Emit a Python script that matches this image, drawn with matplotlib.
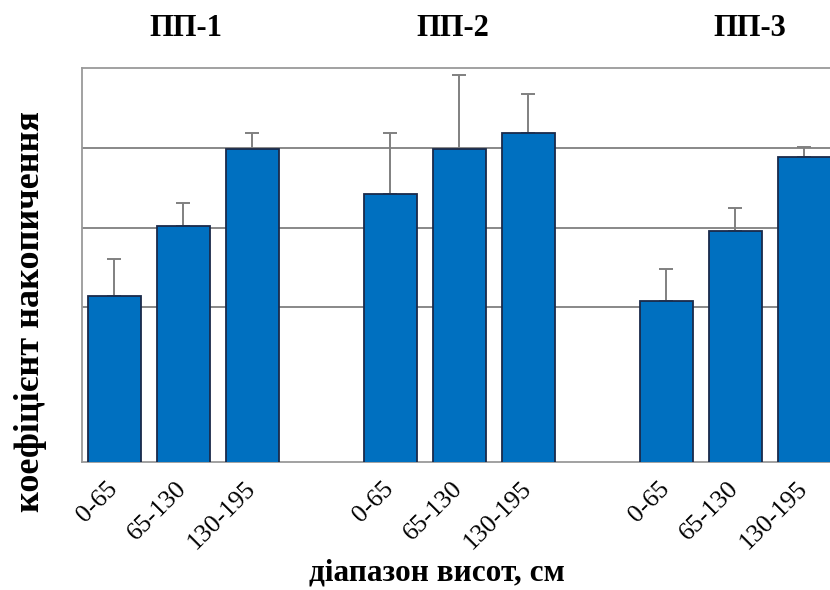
import numpy as np
import matplotlib.pyplot as plt

# діапазони висот для кожної пробної площі
ranges = ['0-65', '65-130', '130-195']
plots = ['ПП-1', 'ПП-2', 'ПП-3']

# середні значення коефіцієнта накопичення та похибки (лише вгору)
pp1_mean = [2.14, 3.02, 3.99]
pp1_err = [0.47, 0.29, 0.19]
pp2_mean = [3.42, 3.99, 4.19]
pp2_err = [0.76, 0.92, 0.48]
pp3_mean = [2.08, 2.96, 3.88]
pp3_err = [0.40, 0.28, 0.13]

means = pp1_mean + pp2_mean + pp3_mean
errs = pp1_err + pp2_err + pp3_err
labels = ranges * 3

# три стовпчики на групу, одна порожня позиція між групами
pos = [g * 4 + i for g in range(3) for i in range(3)]

plt.rcParams['font.family'] = ['Liberation Serif', 'DejaVu Serif']

fig = plt.figure(figsize=(8.3, 5.9), dpi=100)
ax = fig.add_axes([0.0988, 0.2175, 0.9012, 0.6672])

ax.bar(pos, means, width=0.77, color='#0070C0', edgecolor='#1a2a4a',
       linewidth=1.3, zorder=3)
ax.errorbar(pos, means, yerr=[np.zeros(len(errs)), errs], fmt='none',
            ecolor='#808080', elinewidth=1.4, capsize=5, capthick=1.4, zorder=2)

ax.set_xlim(-0.466, 10.37)
ax.set_ylim(0.065, 5)
ax.set_yticks([2, 3, 4])
ax.set_yticklabels([])
ax.yaxis.grid(True, color='#7f7f7f', linewidth=1.3)
ax.set_axisbelow(True)
ax.tick_params(axis='both', length=0)

ax.set_xticks(pos)
ax.set_xticklabels(labels, rotation=45, ha='right', va='center',
                   rotation_mode='anchor', fontsize=18.5)
ax.tick_params(axis='x', pad=17)

for side in ['left', 'bottom', 'top']:
    ax.spines[side].set_color('#9a9a9a')
    ax.spines[side].set_linewidth(1.3)
ax.spines['right'].set_visible(False)

# підписи груп над стовпчиками
for name, xc in zip(plots, [186, 453, 750]):
    fig.text(xc / 830, 1 - 28 / 590, name, ha='center', va='center',
             fontsize=22, fontweight='bold')

fig.text(31 / 830, 1 - 312 / 590, 'коефіцієнт накопичення', rotation=90,
         ha='center', va='center', fontsize=26, fontweight='bold')
fig.text(437 / 830, 1 - 573 / 590, 'діапазон висот, см', ha='center',
         va='center', fontsize=22.5, fontweight='bold')

fig.savefig('out.png', dpi=100)
